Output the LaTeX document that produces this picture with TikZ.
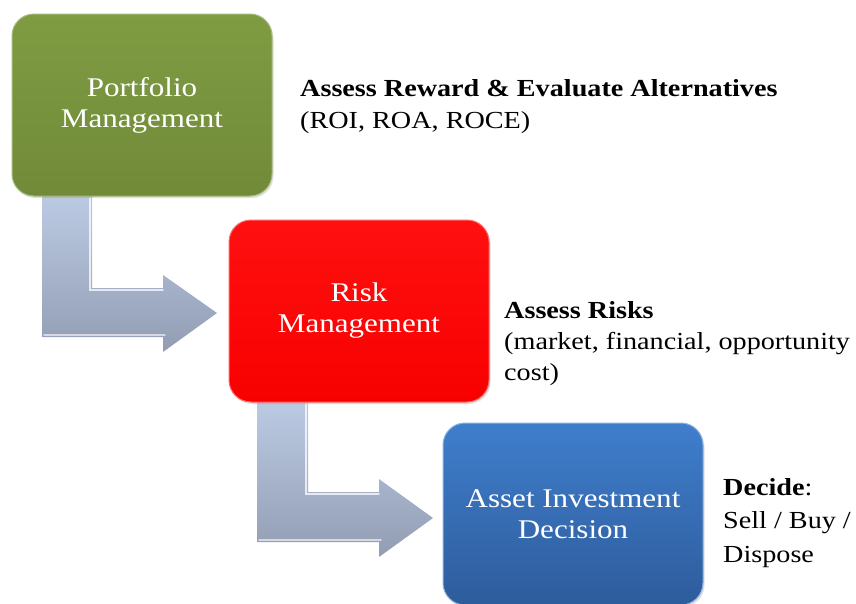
\documentclass[tikz,border=0pt]{standalone}
\usepackage{fontspec}
\setmainfont{Liberation Serif}[FakeStretch=1.15]
\usetikzlibrary{shadows}
\definecolor{gtop}{HTML}{7F9C42}
\definecolor{gbot}{HTML}{718A39}
\definecolor{rtop}{HTML}{FF1010}
\definecolor{rbot}{HTML}{F80000}
\definecolor{btop}{HTML}{3F7ECC}
\definecolor{bbot}{HTML}{2E5C9C}
\definecolor{atop}{HTML}{BBCAE3}
\definecolor{abot}{HTML}{929DB3}
\begin{document}
\begin{tikzpicture}[x=1pt,y=-1pt,
  box/.style={minimum width=260pt, minimum height=182pt, rounded corners=22pt,
    align=center, text=white, inner sep=0pt, font=\fontsize{27}{31}\selectfont,
    drop shadow={opacity=0.25, shadow xshift=1.5pt, shadow yshift=-2pt}},
  side/.style={anchor=base west, inner sep=0pt, text=black, font=\fontsize{24.5}{30}\selectfont},
  arrowfill/.style={top color=atop, bottom color=abot},
  glint/.style={draw=white, line width=1.6pt, opacity=0.75, line cap=round}]
\useasboundingbox (0,0) rectangle (856,603);
% bent arrows
\shade[arrowfill] (42,196) -- (92,196) -- (92,288) -- (163,288) -- (163,275) -- (217,313)
  -- (163,352) -- (163,337) -- (42,337) -- cycle;
\draw[glint] (90,198) -- (90,290) -- (163,290);
\draw[glint, opacity=0.6] (44,335) -- (165,335);
\shade[arrowfill] (257,402) -- (308,402) -- (308,492) -- (379,492) -- (379,479) -- (433,518)
  -- (379,557) -- (379,542) -- (257,542) -- cycle;
\draw[glint] (306,404) -- (306,494) -- (379,494);
\draw[glint, opacity=0.6] (259,540) -- (381,540);
% boxes
\node[box, top color=gtop, bottom color=gbot, draw=gtop!70!white, line width=1pt] (pm) at (142,105) {Portfolio\\Management};
\node[box, top color=rtop, bottom color=rbot, draw=red!60!white, line width=1pt] (rm) at (359,311) {Risk\\Management};
\node[box, top color=btop, bottom color=bbot, draw=btop!60!white, line width=1pt] (aid) at (573,514) {Asset Investment\\Decision};
% side texts
\node[side] (t1a) at (300,96) {\textbf{Assess Reward \& Evaluate Alternatives}};
\node[side] (t1b) at (300,128) {(ROI, ROA, ROCE)};
\node[side] (t2a) at (504,318) {\textbf{Assess Risks}};
\node[side] (t2b) at (504,349) {(market, financial, opportunity};
\node[side] (t2c) at (504,380) {cost)};
\node[side] (t3a) at (723,495) {\textbf{Decide}:};
\node[side] (t3b) at (723,528) {Sell / Buy /};
\node[side] (t3c) at (723,562) {Dispose};
\end{tikzpicture}
\end{document}
